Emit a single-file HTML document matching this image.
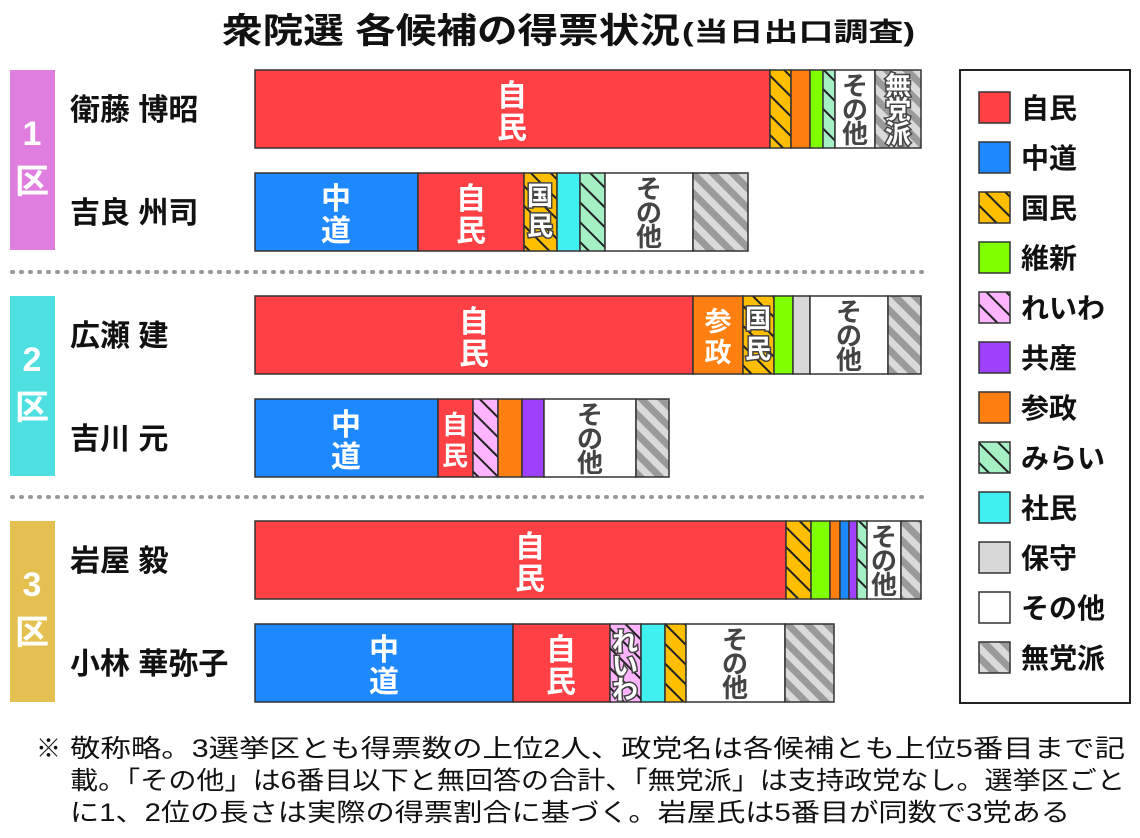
<!DOCTYPE html>
<html><head><meta charset="utf-8"><style>
body{margin:0;background:#fff}
svg{display:block;font-family:"Liberation Sans","Noto Sans CJK JP",sans-serif}
</style></head><body>
<svg width="1140" height="838" viewBox="0 0 1140 838" xmlns="http://www.w3.org/2000/svg">
<defs>
<pattern id="kok" width="14" height="14" patternUnits="userSpaceOnUse" patternTransform="rotate(-45)"><rect width="14" height="14" fill="#ffbe00"/><rect width="2" height="14" fill="#222"/></pattern>
<pattern id="rei" width="14" height="14" patternUnits="userSpaceOnUse" patternTransform="rotate(-45)"><rect width="14" height="14" fill="#ffb4ff"/><rect width="2" height="14" fill="#222"/></pattern>
<pattern id="mir" width="14" height="14" patternUnits="userSpaceOnUse" patternTransform="rotate(-45)"><rect width="14" height="14" fill="#a4f0c4"/><rect width="2" height="14" fill="#222"/></pattern>
<pattern id="mu" width="14" height="14" patternUnits="userSpaceOnUse" patternTransform="rotate(-45)"><rect width="14" height="14" fill="#dadada"/><rect width="7" height="14" fill="#9a9a9a"/></pattern>
</defs>
<g font-weight="bold" fill="#111">
<text x="222" y="43" font-size="35" textLength="458" lengthAdjust="spacingAndGlyphs">衆院選 各候補の得票状況</text>
<text x="682" y="41" font-size="26" textLength="233" lengthAdjust="spacingAndGlyphs">(当日出口調査)</text>
</g>
<rect x="10" y="70" width="45" height="180" fill="#e07ee0"/>
<rect x="10" y="296" width="45" height="180" fill="#4ee0e0"/>
<rect x="10" y="521" width="45" height="181" fill="#e3c050"/>
<g fill="#fff" font-weight="bold" font-size="34" text-anchor="middle">
<text x="32" y="145">1</text><text x="32" y="193">区</text>
<text x="32" y="371">2</text><text x="32" y="419">区</text>
<text x="32" y="596">3</text><text x="32" y="644">区</text>
</g>
<g stroke="#999" stroke-width="4" stroke-dasharray="1 8" stroke-linecap="round">
<line x1="12" y1="272" x2="925" y2="272"/><line x1="12" y1="497" x2="925" y2="497"/>
</g>
<g font-weight="bold" font-size="30" fill="#111">
<text x="70" y="120">衛藤 博昭</text>
<text x="70" y="223">吉良 州司</text>
<text x="70" y="346">広瀬 建</text>
<text x="70" y="449">吉川 元</text>
<text x="70" y="571">岩屋 毅</text>
<text x="70" y="674">小林 華弥子</text>
</g>
<g stroke="#333" stroke-width="1.5">
<rect x="255" y="70" width="515" height="78" fill="#ff4044"/>
<rect x="770" y="70" width="21" height="78" fill="url(#kok)"/>
<rect x="791" y="70" width="19" height="78" fill="#ff8010"/>
<rect x="810" y="70" width="13" height="78" fill="#80ff00"/>
<rect x="823" y="70" width="12" height="78" fill="url(#mir)"/>
<rect x="835" y="70" width="40" height="78" fill="#fff"/>
<rect x="875" y="70" width="46" height="78" fill="url(#mu)"/>
<rect x="255" y="173" width="163" height="78" fill="#1e88ff"/>
<rect x="418" y="173" width="106" height="78" fill="#ff4044"/>
<rect x="524" y="173" width="33" height="78" fill="url(#kok)"/>
<rect x="557" y="173" width="23" height="78" fill="#40f0f0"/>
<rect x="580" y="173" width="25" height="78" fill="url(#mir)"/>
<rect x="605" y="173" width="88" height="78" fill="#fff"/>
<rect x="693" y="173" width="55" height="78" fill="url(#mu)"/>
<rect x="255" y="296" width="438" height="78" fill="#ff4044"/>
<rect x="693" y="296" width="50" height="78" fill="#ff8010"/>
<rect x="743" y="296" width="31" height="78" fill="url(#kok)"/>
<rect x="774" y="296" width="19" height="78" fill="#80ff00"/>
<rect x="793" y="296" width="17" height="78" fill="#d8d8d8"/>
<rect x="810" y="296" width="78" height="78" fill="#fff"/>
<rect x="888" y="296" width="33" height="78" fill="url(#mu)"/>
<rect x="255" y="399" width="183" height="78" fill="#1e88ff"/>
<rect x="438" y="399" width="35" height="78" fill="#ff4044"/>
<rect x="473" y="399" width="25" height="78" fill="url(#rei)"/>
<rect x="498" y="399" width="24" height="78" fill="#ff8010"/>
<rect x="522" y="399" width="22" height="78" fill="#a040ff"/>
<rect x="544" y="399" width="92" height="78" fill="#fff"/>
<rect x="636" y="399" width="33" height="78" fill="url(#mu)"/>
<rect x="255" y="521" width="531" height="78" fill="#ff4044"/>
<rect x="786" y="521" width="25" height="78" fill="url(#kok)"/>
<rect x="811" y="521" width="19" height="78" fill="#80ff00"/>
<rect x="830" y="521" width="10" height="78" fill="#ff8010"/>
<rect x="840" y="521" width="9" height="78" fill="#1e88ff"/>
<rect x="849" y="521" width="8" height="78" fill="#a040ff"/>
<rect x="857" y="521" width="10" height="78" fill="url(#mir)"/>
<rect x="867" y="521" width="34" height="78" fill="#fff"/>
<rect x="901" y="521" width="20" height="78" fill="url(#mu)"/>
<rect x="255" y="624" width="258" height="78" fill="#1e88ff"/>
<rect x="513" y="624" width="97" height="78" fill="#ff4044"/>
<rect x="610" y="624" width="31" height="78" fill="url(#rei)"/>
<rect x="641" y="624" width="24" height="78" fill="#40f0f0"/>
<rect x="665" y="624" width="21" height="78" fill="url(#kok)"/>
<rect x="686" y="624" width="99" height="78" fill="#fff"/>
<rect x="785" y="624" width="49" height="78" fill="url(#mu)"/>
</g>
<g fill="#fff" font-size="30" text-anchor="middle" font-weight="bold">
<text x="512" y="106">自</text><text x="512" y="138">民</text>
<text x="336" y="209">中</text><text x="336" y="241">道</text>
<text x="471" y="209">自</text><text x="471" y="241">民</text>
<text x="474" y="332">自</text><text x="474" y="364">民</text>
<text x="718" y="331" font-size="27">参</text><text x="718" y="362" font-size="27">政</text>
<text x="346" y="435">中</text><text x="346" y="467">道</text>
<text x="455" y="434" font-size="26">自</text><text x="455" y="465" font-size="26">民</text>
<text x="530" y="557">自</text><text x="530" y="589">民</text>
<text x="384" y="660">中</text><text x="384" y="692">道</text>
<text x="561" y="660">自</text><text x="561" y="692">民</text>
</g>
<g fill="#fff" stroke="#444" stroke-width="3" paint-order="stroke" font-size="26" text-anchor="middle" font-weight="bold">
<text x="540" y="205">国</text><text x="540" y="235">民</text>
<text x="758" y="328">国</text><text x="758" y="358">民</text>
<text x="625" y="651">れ</text><text x="625" y="675">い</text><text x="625" y="699">わ</text>
<text x="898" y="95">無</text><text x="898" y="119">党</text><text x="898" y="143">派</text>
</g>
<g fill="#444" font-size="26" text-anchor="middle" font-weight="bold">
<text x="855" y="95">そ</text><text x="855" y="119">の</text><text x="855" y="143">他</text>
<text x="649" y="198">そ</text><text x="649" y="222">の</text><text x="649" y="246">他</text>
<text x="849" y="321">そ</text><text x="849" y="345">の</text><text x="849" y="369">他</text>
<text x="590" y="424">そ</text><text x="590" y="448">の</text><text x="590" y="472">他</text>
<text x="884" y="546">そ</text><text x="884" y="570">の</text><text x="884" y="594">他</text>
<text x="735" y="649">そ</text><text x="735" y="673">の</text><text x="735" y="697">他</text>
</g>
<rect x="960" y="70" width="170" height="633" fill="#fff" stroke="#222" stroke-width="2"/>
<g stroke="#333" stroke-width="1.5">
<rect x="979" y="92" width="31" height="31" fill="#ff4044"/>
<rect x="979" y="142" width="31" height="31" fill="#1e88ff"/>
<rect x="979" y="192" width="31" height="31" fill="url(#kok)"/>
<rect x="979" y="242" width="31" height="31" fill="#80ff00"/>
<rect x="979" y="292" width="31" height="31" fill="url(#rei)"/>
<rect x="979" y="342" width="31" height="31" fill="#a040ff"/>
<rect x="979" y="392" width="31" height="31" fill="#ff8010"/>
<rect x="979" y="442" width="31" height="31" fill="url(#mir)"/>
<rect x="979" y="492" width="31" height="31" fill="#40f0f0"/>
<rect x="979" y="542" width="31" height="31" fill="#d8d8d8"/>
<rect x="979" y="592" width="31" height="31" fill="#fff"/>
<rect x="979" y="642" width="31" height="31" fill="url(#mu)"/>
</g>
<g font-weight="bold" font-size="28" fill="#111">
<text x="1021" y="118">自民</text>
<text x="1021" y="168">中道</text>
<text x="1021" y="218">国民</text>
<text x="1021" y="268">維新</text>
<text x="1021" y="318">れいわ</text>
<text x="1021" y="368">共産</text>
<text x="1021" y="418">参政</text>
<text x="1021" y="468">みらい</text>
<text x="1021" y="518">社民</text>
<text x="1021" y="568">保守</text>
<text x="1021" y="618">その他</text>
<text x="1021" y="668">無党派</text>
</g>
<g font-size="25" fill="#111">
<text x="36" y="757">※</text>
<text x="70" y="757" textLength="1055" lengthAdjust="spacingAndGlyphs">敬称略。3選挙区とも得票数の上位2人、政党名は各候補とも上位5番目まで記</text>
<text x="70" y="789" textLength="1055" lengthAdjust="spacingAndGlyphs">載。「その他」は6番目以下と無回答の合計、「無党派」は支持政党なし。選挙区ごと</text>
<text x="70" y="821" textLength="1000" lengthAdjust="spacingAndGlyphs">に1、2位の長さは実際の得票割合に基づく。岩屋氏は5番目が同数で3党ある</text>
</g>
</svg>
</body></html>
